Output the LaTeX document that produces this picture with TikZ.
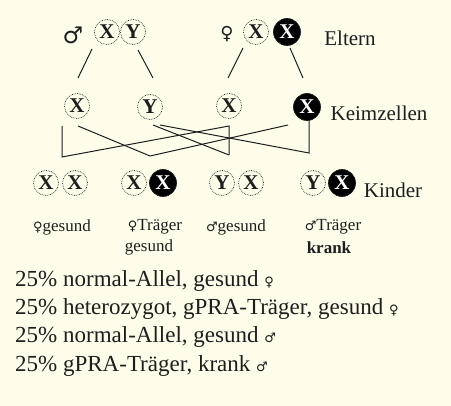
\documentclass[tikz,border=0pt]{standalone}
\usepackage{fontspec}
\setmainfont{Liberation Serif}
\newfontfamily\symfont{DejaVu Sans}
\usetikzlibrary{calc}
\definecolor{bg}{RGB}{254,253,234}
\definecolor{ink}{RGB}{30,30,30}
\newcommand{\gfem}{{\symfont\fontsize{13}{13}\selectfont ♀}}
\newcommand{\gmal}{{\symfont\fontsize{13}{13}\selectfont ♂}}
\begin{document}
\begin{tikzpicture}[x=1pt,y=-1pt,
  allele/.style={circle,draw=ink,densely dotted,line width=0.7pt,minimum size=25pt,inner sep=0pt,text=ink,font=\fontsize{21}{21}\selectfont\bfseries},
  sick/.style={allele,fill=black,text=white,solid,minimum size=27pt},
  lbl/.style={font=\fontsize{21}{21}\selectfont,inner sep=0pt,text=ink},
  small/.style={font=\fontsize{17}{17}\selectfont,inner sep=0pt,text=ink},
  bigsym/.style={font=\symfont\fontsize{23}{23}\selectfont,inner sep=0pt,text=ink},
  sentence/.style={font=\fontsize{23}{23}\selectfont,inner sep=0pt,anchor=base west,text=ink},
  cross/.style={line width=1pt,draw=ink}]
\fill[bg] (0,0) rectangle (451,406);
\useasboundingbox (0,0) rectangle (451,406);

% parents
\node[bigsym] (male) at (73,35) {♂};
\node[allele] (fX) at (107,32) {X};
\node[allele] (fY) at (133,32) {Y};
\node[bigsym,font=\symfont\fontsize{18}{18}\selectfont] (female) at (227,34) {♀};
\node[allele] (mX) at (256,32) {X};
\node[sick] (mXb) at (287,32) {X};
\node[lbl] (eltern) at (350,38) {Eltern};

% gametes
\node[allele] (gX) at (77,106) {X};
\node[allele] (gY) at (150,107) {Y};
\node[allele] (gX2) at (229,106) {X};
\node[sick] (gXb) at (307,107) {X};
\node[lbl] (keim) at (379,113) {Keimzellen};

% children
\node[allele] (c1a) at (46,183) {X};
\node[allele] (c1b) at (75,183) {X};
\node[allele] (c2a) at (134,183) {X};
\node[sick] (c2b) at (163,183) {X};
\node[allele] (c3a) at (222,183) {Y};
\node[allele] (c3b) at (251,183) {X};
\node[allele] (c4a) at (313,183) {Y};
\node[sick] (c4b) at (342,183) {X};
\node[lbl] (kinder) at (393,190) {Kinder};

% child labels
\node[small] (l1) at (62,227) {\gfem gesund};
\node[small] (l2a) at (155,227) {\gfem Träger};
\node[small] (l2b) at (149,247) {gesund};
\node[small] (l3) at (236,227) {\gmal gesund};
\node[small] (l4a) at (333,227) {\gmal Träger};
\node[small,font=\fontsize{17}{17}\selectfont\bfseries] (l4b) at (329,248) {krank};

% summary
\node[sentence] (s1) at (15,287) {25\% normal-Allel, gesund \gfem};
\node[sentence] (s2) at (15,315) {25\% heterozygot, gPRA-Träger, gesund \gfem};
\node[sentence] (s3) at (15,343) {25\% normal-Allel, gesund \gmal};
\node[sentence] (s4) at (15,372) {25\% gPRA-Träger, krank \gmal};

% parents to gametes
\draw[cross] ($(fX)+(-15,17)$) -- ($(gX)+(1,-28)$);
\draw[cross] ($(fY)+(5,18)$) -- ($(gY)+(3,-29)$);
\draw[cross] ($(mX)+(-13,16)$) -- ($(gX2)+(-1,-28)$);
\draw[cross] ($(mXb)+(3,16)$) -- ($(gXb)+(-4,-29)$);

% crossing scheme
\coordinate (k1) at (62,157);
\coordinate (k2) at (150,156);
\draw[cross] ($(gX)+(-15,20)$) -- (k1) -- ($(gX2)+(0,20)$) -- ($(gX2)+(0,49)$);
\draw[cross] ($(gX)+(1,20)$) -- (k2) -- ($(gXb)+(-19,18)$);
\draw[cross] ($(gY)+(3,18)$) -- ($(gX2)+(0,49)$);
\draw[cross] ($(gY)+(10,18)$) -- ($(gXb)+(2,46)$) -- ($(gXb)+(2,13)$);
\end{tikzpicture}
\end{document}
